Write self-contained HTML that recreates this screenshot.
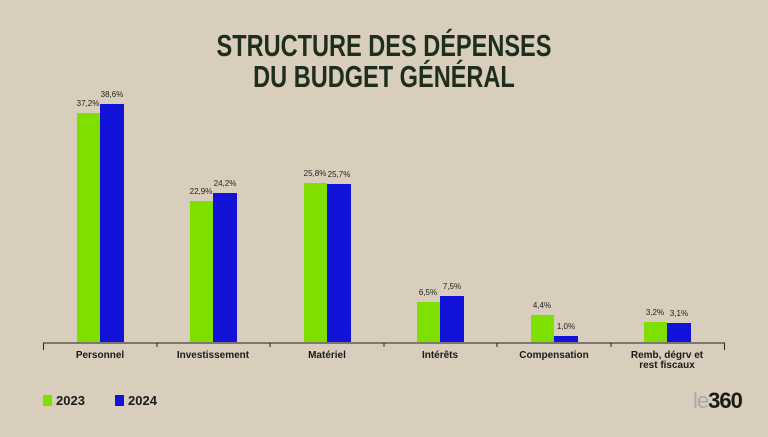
<!DOCTYPE html>
<html><head><meta charset="utf-8"><style>
body{margin:0;width:768px;height:432px;overflow:hidden;background:#d8cebb;font-family:"Liberation Sans",sans-serif;}
</style></head><body>
<svg width="768" height="432" viewBox="0 0 768 432" xmlns="http://www.w3.org/2000/svg">
<rect width="768" height="432" fill="#d8cebb"/>
<g font-family="'Liberation Sans Narrow','Liberation Sans',sans-serif" font-weight="bold" fill="#1d2e1c" text-anchor="middle" font-size="31">
<text x="384" y="56" transform="translate(384 0) scale(0.76 1) translate(-384 0)">STRUCTURE DES DÉPENSES</text>
<text x="384" y="87" transform="translate(384 0) scale(0.76 1) translate(-384 0)">DU BUDGET GÉNÉRAL</text>
</g>
<g id="bars">
<rect x="77" y="113" width="23" height="229" fill="#7fe000"/>
<rect x="100" y="104" width="24" height="238" fill="#1212d8"/>
<rect x="190" y="201" width="23" height="141" fill="#7fe000"/>
<rect x="213" y="193" width="24" height="149" fill="#1212d8"/>
<rect x="304" y="183" width="23" height="159" fill="#7fe000"/>
<rect x="327" y="184" width="24" height="158" fill="#1212d8"/>
<rect x="417" y="302" width="23" height="40" fill="#7fe000"/>
<rect x="440" y="296" width="24" height="46" fill="#1212d8"/>
<rect x="531" y="315" width="23" height="27" fill="#7fe000"/>
<rect x="554" y="336" width="24" height="6" fill="#1212d8"/>
<rect x="644" y="322" width="23" height="20" fill="#7fe000"/>
<rect x="667" y="323" width="24" height="19" fill="#1212d8"/>
</g>
<g font-size="8" fill="#222" text-anchor="middle" font-family="'Liberation Sans Narrow','Liberation Sans',sans-serif">
<text x="88" y="106">37,2%</text><text x="112" y="97">38,6%</text>
<text x="201" y="194">22,9%</text><text x="225" y="186">24,2%</text>
<text x="315" y="176">25,8%</text><text x="339" y="177">25,7%</text>
<text x="428" y="295">6,5%</text><text x="452" y="289">7,5%</text>
<text x="542" y="308">4,4%</text><text x="566" y="329">1,0%</text>
<text x="655" y="315">3,2%</text><text x="679" y="316">3,1%</text>
</g>
<g stroke="#222" stroke-width="1">
<line x1="43" y1="343" x2="725" y2="343"/>
<line x1="43.5" y1="343" x2="43.5" y2="350"/><line x1="157" y1="343" x2="157" y2="347"/>
<line x1="270" y1="343" x2="270" y2="347"/><line x1="384" y1="343" x2="384" y2="347"/>
<line x1="497" y1="343" x2="497" y2="347"/><line x1="611" y1="343" x2="611" y2="347"/>
<line x1="724.5" y1="343" x2="724.5" y2="350"/>
</g>
<g font-size="10" font-weight="bold" fill="#1a1a1a" text-anchor="middle" font-family="'Liberation Sans Narrow','Liberation Sans',sans-serif">
<text x="100" y="358">Personnel</text><text x="213" y="358">Investissement</text>
<text x="327" y="358">Matériel</text><text x="440" y="358">Intérêts</text>
<text x="554" y="358">Compensation</text><text x="667" y="358">Remb, dégrv et</text>
<text x="667" y="368">rest fiscaux</text>
</g>
<rect x="43" y="395" width="9" height="11" fill="#7fe000"/>
<rect x="115" y="395" width="9" height="11" fill="#1212d8"/>
<g font-size="13" font-weight="bold" fill="#1a1a1a">
<text x="56" y="405">2023</text><text x="128" y="405">2024</text>
</g>
<text x="693" y="408" font-size="22" font-weight="bold" fill="#1a1a1a" font-family="'Liberation Sans Narrow','Liberation Sans',sans-serif" letter-spacing="-1"><tspan fill="#aaa" font-weight="normal">le</tspan>360</text>
</svg>
</body></html>
